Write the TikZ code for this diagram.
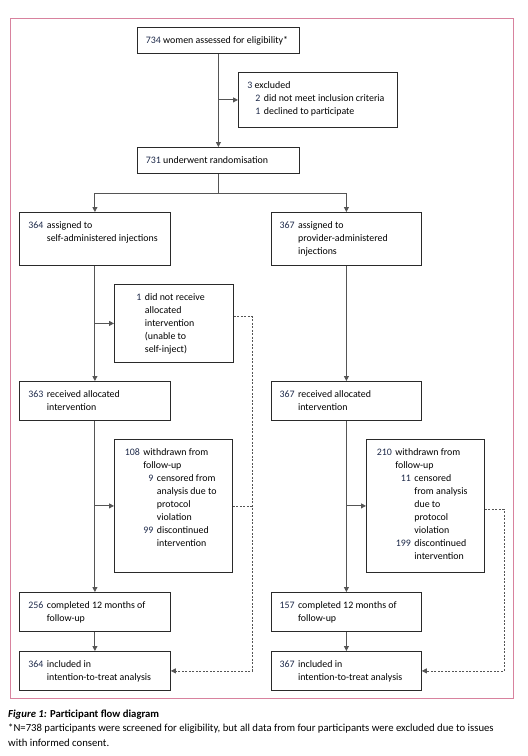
\documentclass[tikz,border=0pt]{standalone}
\usepackage{fontspec}
\setmainfont{Carlito}
\usetikzlibrary{arrows.meta,calc}
\definecolor{numcol}{HTML}{1E2A4A}
\definecolor{linecol}{HTML}{555555}
\definecolor{boxcol}{HTML}{2A2A2A}
\definecolor{framecol}{HTML}{D8829E}
\newlength\wt \setlength\wt{15.5pt}
\newlength\ww \setlength\ww{10pt}
\newcommand\N[2]{\makebox[#1][r]{\color{numcol}#2}\hspace*{3.5pt}}
\newcommand\I[1]{\hspace*{#1}\hspace*{3.5pt}}
\newcommand\cont[4]{\parbox[c][#2][t]{#1}{\vskip6.9pt\hspace*{#3}\begin{tabular}[t]{@{}l@{}}#4\end{tabular}}}
\begin{document}
\begin{tikzpicture}[x=1pt,y=-1pt,
  font=\fontsize{9.9}{13}\selectfont,
  fbox/.style={draw=boxcol, line width=0.8pt, inner sep=0pt, anchor=north west},
  conn/.style={draw=linecol, line width=0.9pt},
  arr/.style={conn, -{Triangle[length=5pt,width=5pt]}},
  dotl/.style={draw=linecol, line width=0.8pt, dash pattern=on 2pt off 1.5pt},
  darr/.style={dotl, -{Triangle[length=5pt,width=5pt]}},
  captxt/.style={anchor=base west, inner sep=0pt, font=\fontsize{10.7}{14}\selectfont}]
\useasboundingbox (0,0) rectangle (528,756);
\node[draw=framecol, line width=1.1pt, inner sep=0pt, minimum width=503pt, minimum height=680.5pt, anchor=north west] (frame) at (9.5,17.5) {};

\node[fbox] (A) at (137,27) {\cont{162pt}{26pt}{8.5pt}{{\color{numcol}734} women assessed for eligibility*}};
\node[fbox] (B) at (238,72) {\cont{159pt}{55pt}{9pt}{{\color{numcol}3} excluded\\ \hspace*{8pt}\N{5pt}{2}did not meet inclusion criteria\\ \hspace*{8pt}\N{5pt}{1}declined to participate}};
\node[fbox] (C) at (137,147) {\cont{162pt}{26pt}{8.5pt}{{\color{numcol}731} underwent randomisation}};
\node[fbox] (D) at (19,212) {\cont{151pt}{53pt}{8.5pt}{\N{\wt}{364}assigned to\\ \I{\wt}self-administered injections}};
\node[fbox] (E) at (271,212) {\cont{150pt}{53pt}{7.7pt}{\N{\wt}{367}assigned to\\ \I{\wt}provider-administered\\ \I{\wt}injections}};
\node[fbox] (F) at (114,284) {\cont{119pt}{78pt}{11.5pt}{\N{\wt}{1}did not receive\\ \I{\wt}allocated\\ \I{\wt}intervention\\ \I{\wt}(unable to\\ \I{\wt}self-inject)}};
\node[fbox] (G) at (19,381) {\cont{151pt}{39pt}{8.5pt}{\N{\wt}{363}received allocated\\ \I{\wt}intervention}};
\node[fbox] (H) at (271,381) {\cont{150pt}{39pt}{7.7pt}{\N{\wt}{367}received allocated\\ \I{\wt}intervention}};
\node[fbox] (I) at (114,439) {\cont{118pt}{133pt}{10pt}{\N{\wt}{108}withdrawn from\\ \I{\wt}follow-up\\ \I{\wt}\N{\ww}{9}censored from\\ \I{\wt}\I{\ww}analysis due to\\ \I{\wt}\I{\ww}protocol\\ \I{\wt}\I{\ww}violation\\ \I{\wt}\N{\ww}{99}discontinued\\ \I{\wt}\I{\ww}intervention}};
\node[fbox] (J) at (366,439) {\cont{118pt}{133pt}{10pt}{\N{\wt}{210}withdrawn from\\ \I{\wt}follow-up\\ \I{\wt}\N{\wt}{11}censored\\ \I{\wt}\I{\wt}from analysis\\ \I{\wt}\I{\wt}due to\\ \I{\wt}\I{\wt}protocol\\ \I{\wt}\I{\wt}violation\\ \I{\wt}\N{\wt}{199}discontinued\\ \I{\wt}\I{\wt}intervention}};
\node[fbox] (K) at (19,592) {\cont{151pt}{39pt}{8.5pt}{\N{\wt}{256}completed 12 months of\\ \I{\wt}follow-up}};
\node[fbox] (L) at (271,592) {\cont{150pt}{39pt}{7.7pt}{\N{\wt}{157}completed 12 months of\\ \I{\wt}follow-up}};
\node[fbox] (M) at (19,651) {\cont{151pt}{39pt}{8.5pt}{\N{\wt}{364}included in\\ \I{\wt}intention-to-treat analysis}};
\node[fbox] (N) at (271,651) {\cont{150pt}{39pt}{7.7pt}{\N{\wt}{367}included in\\ \I{\wt}intention-to-treat analysis}};

\draw[arr] (A.south) -- (C.north);
\draw[arr] (A.south |- B.west) -- (B.west);
\coordinate (sp) at ($(C.south)+(0,19.7)$);
\draw[conn] (C.south) -- (sp);
\draw[arr] (sp) -| (D.north);
\draw[arr] (sp) -| (E.north);
\draw[arr] (D.south) -- (G.north);
\draw[arr] (D.south |- F.west) -- (F.west);
\draw[arr] (E.south) -- (H.north);
\draw[arr] (G.south) -- (K.north);
\draw[arr] (G.south |- I.west) -- (I.west);
\draw[arr] (H.south) -- (L.north);
\draw[arr] (H.south |- J.west) -- (J.west);
\draw[arr] (K.south) -- (M.north);
\draw[arr] (L.south) -- (N.north);

\coordinate (Fo) at ($(F.east)+(0,-7)$);
\coordinate (dl) at (252,0);
\draw[darr] (Fo) -- (Fo -| dl) -- (dl |- M.east) -- (M.east);
\draw[dotl] (I.east) -- (I.east -| dl);
\coordinate (Jo) at ($(J.east)+(0,3.5)$);
\coordinate (dr) at (504,0);
\draw[darr] (Jo) -- (Jo -| dr) -- (dr |- N.east) -- (N.east);

\node[captxt] (cap1) at (8,717) {\textbf{\textit{Figure 1:} Participant flow diagram}};
\node[captxt] (cap2) at (8,731.5) {*N=738 participants were screened for eligibility, but all data from four participants were excluded due to issues};
\node[captxt] (cap3) at (8,746) {with informed consent.};
\end{tikzpicture}
\end{document}
